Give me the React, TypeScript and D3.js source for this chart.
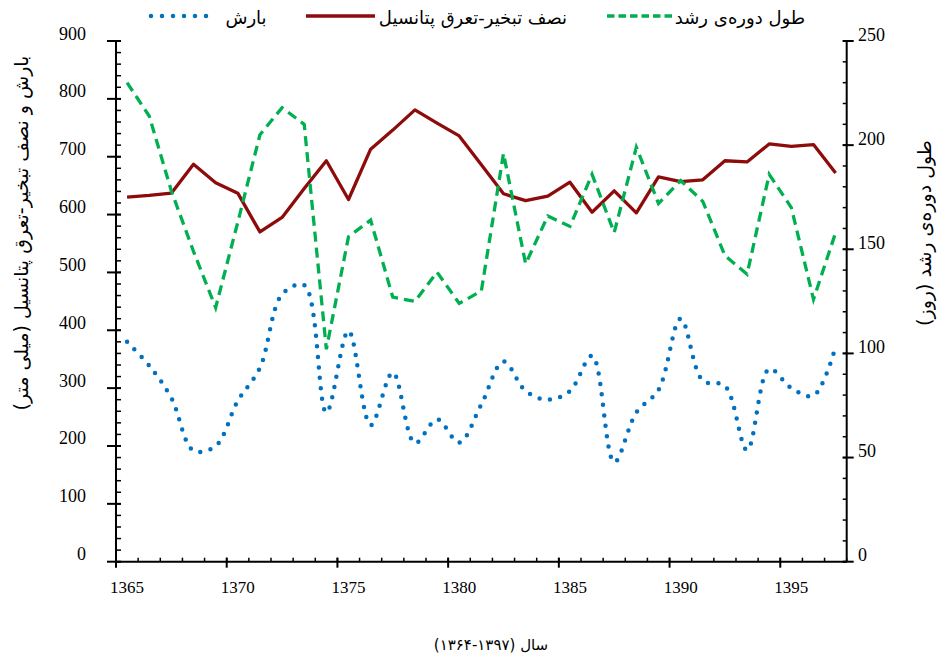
import React from 'react';
import * as d3 from 'd3';

// سال‌ها (محور افقی)
const years = [1365, 1366, 1367, 1368, 1369, 1370, 1371, 1372, 1373, 1374, 1375, 1376, 1377, 1378, 1379, 1380,
  1381, 1382, 1383, 1384, 1385, 1386, 1387, 1388, 1389, 1390, 1391, 1392, 1393, 1394, 1395, 1396, 1397];

// بارش (میلی متر) - محور چپ
const rain = [380, 339, 283, 192, 200, 278, 335, 462, 478, 258, 399, 236, 327, 205, 246, 206,
  272, 346, 295, 280, 295, 356, 172, 258, 297, 420, 313, 304, 193, 333, 300, 287, 372];

// نصف تبخیر-تعرق پتانسیل (میلی متر) - محور چپ
const halfPet = [630, 633, 637, 687, 655, 637, 570, 595, 645, 693, 626, 713, 746, 781, 758, 736,
  686, 636, 624, 632, 656, 604, 641, 603, 665, 657, 660, 693, 691, 722, 718, 721, 672];

// طول دوره رشد (روز) - محور راست
const season = [230, 214, 178, 149, 122, 163, 205, 218, 210, 102, 156, 164, 127, 125, 139, 124,
  130, 196, 143, 166, 161, 186, 158, 199, 172, 183, 173, 147, 138, 186, 170, 126, 158];

const leftTicks = [0, 100, 200, 300, 400, 500, 600, 700, 800, 900];
const rightTicks = [0, 50, 100, 150, 200, 250];
const xLabels = [1365, 1370, 1375, 1380, 1385, 1390, 1395];

const W = 946, H = 657;
const left = 116, right = 846.7, top = 41, bottom = 561.7;

const BLUE = '#0070c0', RED = '#8e0b0b', GREEN = '#00b050';
const faStyle = { fontFamily: "'DejaVu Sans', sans-serif" };
const numStyle = { fontFamily: "'Liberation Serif', 'DejaVu Serif', serif" };

export default function App() {
  const x = d3.scaleBand<number>().domain(years).range([left, right]).paddingInner(0).paddingOuter(0);
  const bw = x.bandwidth();
  const cx = (i: number) => (x(years[i]) as number) + bw / 2;
  const yL = d3.scaleLinear().domain([0, 900]).range([bottom, top]);
  const yR = d3.scaleLinear().domain([0, 250]).range([bottom, top]);

  const rainPath = d3.line<number>().x((d, i) => cx(i)).y(d => yL(d)).curve(d3.curveCatmullRom.alpha(0.5))(rain);
  const petPath = d3.line<number>().x((d, i) => cx(i)).y(d => yL(d))(halfPet);
  const seasonPath = d3.line<number>().x((d, i) => cx(i)).y(d => yR(d))(season);

  const leftMinor = d3.range(0, 901, 20);
  const rightMinor = d3.range(0, 251, 10);

  return (
    <svg width={W} height={H} style={{ position: 'absolute', left: 0, top: 0, background: '#fff' }}>
      {/* legend */}
      <g>
        <line x1={151} x2={217} y1={16} y2={16} stroke={BLUE} strokeWidth={4.5} strokeLinecap="round" strokeDasharray="0 11" />
        <text x={246} y={24} style={faStyle} fontSize={18} textAnchor="middle" direction="rtl">بارش</text>
        <line x1={306} x2={375} y1={16} y2={16} stroke={RED} strokeWidth={3.3} />
        <text x={473} y={24} style={faStyle} fontSize={18} textAnchor="middle" direction="rtl">نصف تبخیر-تعرق پتانسیل</text>
        <line x1={607} x2={672} y1={16} y2={16} stroke={GREEN} strokeWidth={3.3} strokeDasharray="7.5 4" />
        <text x={740} y={24} style={faStyle} fontSize={18} textAnchor="middle" direction="rtl">طول دوره‌ی رشد</text>
      </g>

      {/* left axis */}
      <g stroke="#000">
        <line x1={left} x2={left} y1={top} y2={bottom} strokeWidth={2} />
        {leftMinor.map(v => (
          <line key={'lm' + v} x1={left} x2={left + 5} y1={yL(v)} y2={yL(v)} strokeWidth={1.5} />
        ))}
        {leftTicks.map(v => (
          <line key={'lM' + v} x1={left - 9} x2={left + 5} y1={yL(v)} y2={yL(v)} strokeWidth={2} />
        ))}
      </g>
      {leftTicks.map(v => (
        <text key={'lt' + v} x={86} y={yL(v) - 1.5} style={numStyle} fontSize={18} textAnchor="end">{v}</text>
      ))}

      {/* right axis */}
      <g stroke="#000">
        <line x1={right} x2={right} y1={top} y2={bottom} strokeWidth={2} />
        {rightMinor.map(v => (
          <line key={'rm' + v} x1={right - 4} x2={right} y1={yR(v)} y2={yR(v)} strokeWidth={1.5} />
        ))}
        {rightTicks.map(v => (
          <line key={'rM' + v} x1={right - 4} x2={right + 7} y1={yR(v)} y2={yR(v)} strokeWidth={2} />
        ))}
      </g>
      {rightTicks.map(v => (
        <text key={'rt' + v} x={858} y={yR(v) - 0.5} style={numStyle} fontSize={18} textAnchor="start">{v}</text>
      ))}

      {/* bottom axis */}
      <g stroke="#000">
        <line x1={left} x2={right} y1={bottom} y2={bottom} strokeWidth={2} />
        {years.map(yr => (
          <line key={'bm' + yr} x1={x(yr)} x2={x(yr)} y1={bottom - 4} y2={bottom} strokeWidth={1.5} />
        ))}
        <line x1={right} x2={right} y1={bottom - 4} y2={bottom} strokeWidth={1.5} />
        {xLabels.map(yr => (
          <line key={'bM' + yr} x1={x(yr)} x2={x(yr)} y1={bottom - 4} y2={bottom + 6} strokeWidth={2} />
        ))}
      </g>
      {xLabels.map(yr => (
        <text key={'bt' + yr} x={(x(yr) as number) + bw / 2} y={593} style={numStyle} fontSize={17} textAnchor="middle">{yr}</text>
      ))}

      {/* series */}
      <path d={petPath || ''} fill="none" stroke={RED} strokeWidth={3.3} strokeLinejoin="round" />
      <path d={rainPath || ''} fill="none" stroke={BLUE} strokeWidth={4.5} strokeLinecap="round" strokeDasharray="0 10.5" />
      <path d={seasonPath || ''} fill="none" stroke={GREEN} strokeWidth={3.3} strokeDasharray="10 6" />

      {/* axis titles */}
      <text transform="translate(28,233) rotate(-90)" style={faStyle} fontSize={19} textAnchor="middle" direction="rtl">
        بارش و نصف تبخیر-تعرق پتانسیل (میلی متر)
      </text>
      <text transform="translate(931,233) rotate(-90)" style={faStyle} fontSize={19} textAnchor="middle" direction="rtl">
        طول دوره‌ی رشد (روز)
      </text>
      <text x={491} y={650} style={faStyle} fontSize={15} textAnchor="middle" direction="rtl">سال (۱۳۹۷-۱۳۶۴)</text>
    </svg>
  );
}
